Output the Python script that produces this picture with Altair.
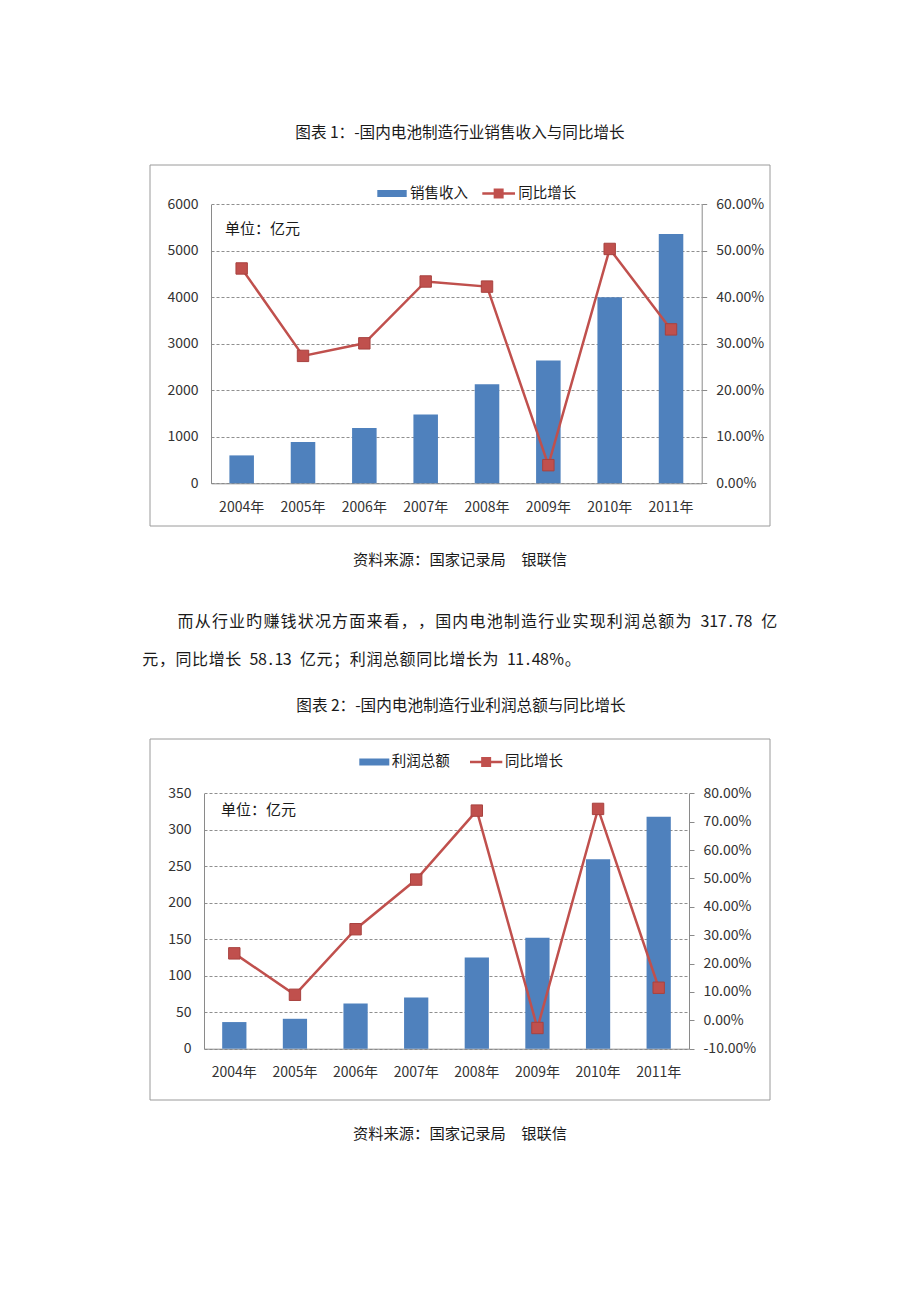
import altair as alt
import pandas as pd

# ---------------- data ----------------
years = ["2004年", "2005年", "2006年", "2007年", "2008年", "2009年", "2010年", "2011年"]
sales = [600, 890, 1190, 1480, 2130, 2640, 4000, 5360]
sales_yoy = [0.462, 0.274, 0.301, 0.434, 0.423, 0.039, 0.504, 0.331]
profit = [36.5, 41, 62, 70, 125, 152, 259.65, 317.78]
profit_yoy = [0.236, 0.090, 0.321, 0.496, 0.739, -0.027, 0.745, 0.1148]

sales_ticks = [0, 1000, 2000, 3000, 4000, 5000, 6000]
sales_pct_ticks = [0, 0.1, 0.2, 0.3, 0.4, 0.5, 0.6]
profit_ticks = [0, 50, 100, 150, 200, 250, 300, 350]
profit_pct_ticks = [-0.1, 0, 0.1, 0.2, 0.3, 0.4, 0.5, 0.6, 0.7, 0.8]

title1 = "图表 1：-国内电池制造行业销售收入与同比增长"
title2 = "图表 2：-国内电池制造行业利润总额与同比增长"
source_text = "资料来源：国家记录局　银联信"
unit_text = "单位：亿元"
legend_bar1 = "销售收入"
legend_bar2 = "利润总额"
legend_line = "同比增长"
para_line1 = "而从行业旳赚钱状况方面来看，，国内电池制造行业实现利润总额为 317.78 亿"
para_line2 = "元，同比增长 58.13 亿元；利润总额同比增长为 11.48%。"

# ---------------- style ----------------
FONT = "Noto Sans CJK SC"
BLUE = "#4F81BD"
RED = "#C0504D"
RED_DARK = "#A8423F"
GRID = "#8f8f8f"
DOM = "#8a8a8a"
LAB = "#333333"
TXT = "#1a1a1a"

df1 = pd.DataFrame({"year": years, "v": sales, "g": sales_yoy})
df2 = pd.DataFrame({"year": years, "v": profit, "g": profit_yoy})
dummy = pd.DataFrame({"k": [0]})


def left_axis(vals, offset):
    return alt.Axis(orient="left", offset=offset, values=vals, grid=True, format="d",
                    gridColor=GRID, gridDash=[3, 2], gridWidth=1, ticks=False,
                    domainColor=DOM, labelFont=FONT, labelFontSize=14,
                    labelColor=LAB, labelPadding=13, labelOverlap=False, title=None)


def right_axis(vals, offset):
    return alt.Axis(orient="right", offset=offset, values=vals, grid=False,
                    ticks=True, tickSize=5, tickColor=DOM, domainColor=DOM,
                    labelFont=FONT, labelFontSize=14, labelColor=LAB,
                    labelPadding=9, labelOverlap=False, title=None,
                    labelExpr="(datum.value < 0 ? '-' : '') + format(abs(datum.value), '.2%')")


def bottom_axis(offset):
    return alt.Axis(orient="bottom", offset=offset, ticks=False, domainColor=DOM,
                    labelAngle=0, labelPadding=17, labelFont=FONT, labelFontSize=14,
                    labelColor=LAB, title=None, grid=False)


def combo(df, xr, yr, ydom, gdom, yvals, gvals, off_l, off_r, off_b):
    bars = alt.Chart(df).mark_bar(color=BLUE).encode(
        x=alt.X("year:N", sort=None,
                scale=alt.Scale(type="band", range=xr, paddingInner=0.6, paddingOuter=0.3),
                axis=bottom_axis(off_b)),
        y=alt.Y("v:Q", scale=alt.Scale(domain=ydom, range=yr, nice=False, zero=True),
                axis=left_axis(yvals, off_l)),
    )
    line = alt.Chart(df).mark_line(
        color=RED, strokeWidth=2.5,
        point=alt.OverlayMarkDef(shape="square", size=130, filled=True,
                                 fill=RED, stroke=RED_DARK, strokeWidth=1, opacity=1),
    ).encode(
        x=alt.X("year:N", sort=None,
                scale=alt.Scale(type="point", range=xr, padding=0.5), axis=None),
        y=alt.Y("g:Q", scale=alt.Scale(domain=gdom, range=yr, nice=False, zero=False),
                axis=right_axis(gvals, off_r)),
    )
    return [bars, line]


def text_at(s, x, y, size, align="center", color=TXT):
    return alt.Chart(dummy).mark_text(text=s, align=align, baseline="middle", font=FONT,
                                      fontSize=size, color=color).encode(
        x=alt.value(x), y=alt.value(y))


def frame(x0, x1, y0, y1):
    return alt.Chart(dummy).mark_rect(fill="white", fillOpacity=0, stroke="#9a9a9a",
                                      strokeWidth=1).encode(
        x=alt.value(x0), x2=alt.value(x1), y=alt.value(y0), y2=alt.value(y1))


def legend(x_sw0, x_sw1, x_t1, x_l0, x_l1, x_t2, y, lab1):
    return [
        alt.Chart(dummy).mark_rect(color=BLUE).encode(
            x=alt.value(x_sw0), x2=alt.value(x_sw1), y=alt.value(y - 3.5), y2=alt.value(y + 3.5)),
        text_at(lab1, x_t1, y, 14.5, align="left"),
        alt.Chart(dummy).mark_rule(color=RED, strokeWidth=2.5).encode(
            x=alt.value(x_l0), x2=alt.value(x_l1), y=alt.value(y)),
        alt.Chart(dummy).mark_point(shape="square", size=100, filled=True, color=RED,
                                    opacity=1).encode(
            x=alt.value((x_l0 + x_l1) / 2), y=alt.value(y)),
        text_at(legend_line, x_t2, y, 14.5, align="left"),
    ]


W, H = 904, 1286

layers = []
layers.append(frame(142, 762, 157, 518))
layers.append(frame(142, 762, 731, 1092))
layers += combo(df1, [203, 693.7], [475.3, 196.3], [0, 6000], [0, 0.6],
                sales_ticks, sales_pct_ticks, -203, 693.7 - W, 475.3 - H)
layers += combo(df2, [196, 681], [1040.7, 785.3], [0, 350], [-0.1, 0.8],
                profit_ticks, profit_pct_ticks, -196, 681 - W, 1040.7 - H)

layers += legend(369.3, 398.7, 402, 474.3, 507, 510.3, 185.5, legend_bar1)
layers += legend(351.3, 381.3, 383.7, 462, 494.3, 497, 754, legend_bar2)

layers.append(text_at(unit_text, 217, 221, 15, align="left"))
layers.append(text_at(unit_text, 213, 802, 15, align="left"))

layers.append(text_at(title1, 452, 125, 15.6))
layers.append(text_at(source_text, 452, 552, 15.3))
layers.append(text_at(title2, 453, 698, 15.6))
layers.append(text_at(source_text, 452, 1126, 15.3))

# paragraph, laid out character by character (justified first line)
pdf = pd.DataFrame({
    "ch": list(para_line1) + list(para_line2),
    "line": [1] * len(para_line1) + [2] * len(para_line2),
    "order": list(range(len(para_line1))) + list(range(len(para_line2))),
})
para = alt.Chart(pdf).transform_calculate(
    w="datum.ch == '%' ? 0.95 : (test(regexp('^[ 0-9.]$'), datum.ch) ? 0.5 : 1)"
).transform_window(
    cum="sum(w)", groupby=["line"], sort=[alt.SortField("order")], frame=[None, 0]
).transform_calculate(
    px="datum.line == 1 ? 169 + (datum.cum - datum.w / 2) * 17.17 : 134 + (datum.cum - datum.w / 2) * 16.6",
    py="datum.line == 1 ? 614 : 652",
).mark_text(align="center", baseline="middle", font=FONT, fontSize=16, color=TXT).encode(
    x=alt.X("px:Q", scale=None, axis=None),
    y=alt.Y("py:Q", scale=None, axis=None),
    text="ch:N",
)
layers.append(para)

chart = alt.layer(*layers).resolve_scale(
    x="independent", y="independent"
).properties(
    width=W, height=H, padding=0, autosize=alt.AutoSizeParams(type="none"),
    background="white",
).configure_view(strokeWidth=0)

chart.save("out.html", embed_options={"renderer": "svg", "actions": False})
